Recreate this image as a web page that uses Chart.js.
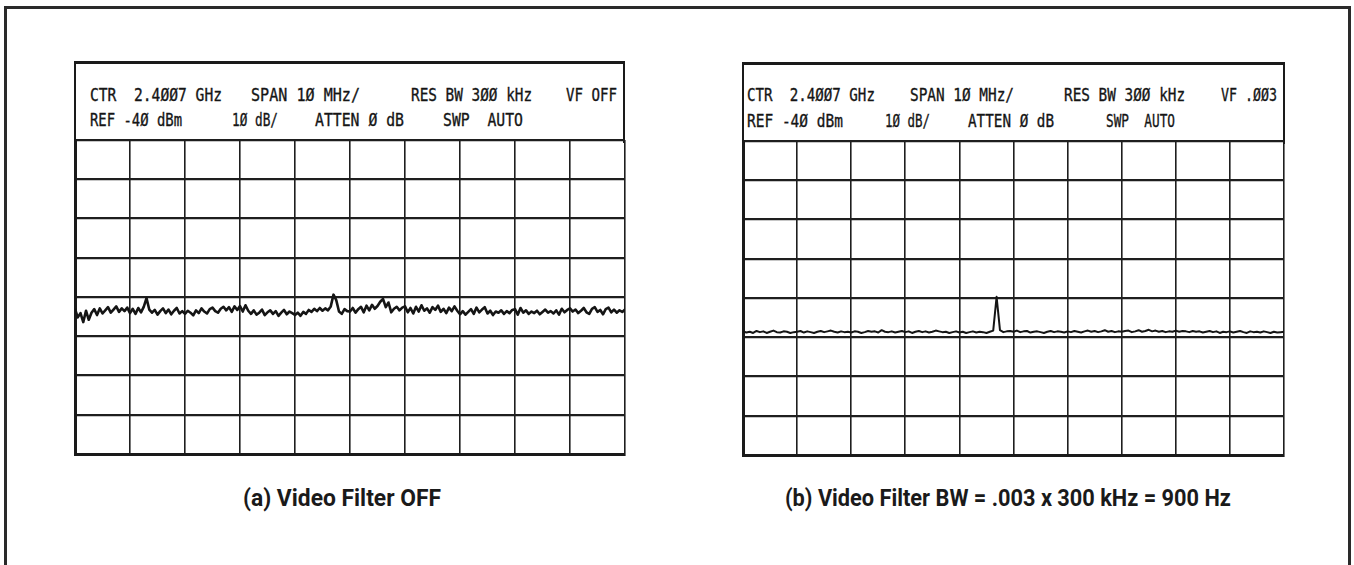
<!DOCTYPE html>
<html>
<head>
<meta charset="utf-8">
<script src="https://cdn.jsdelivr.net/npm/chart.js@4.4.1/dist/chart.umd.min.js"></script>
<style>
  html, body { margin: 0; padding: 0; background: #fff; }
  body { width: 1354px; height: 565px; overflow: hidden; position: relative; }
  #frame { position: absolute; left: 4px; top: 6px; width: 1347px; height: 700px;
           border: 3px solid #2a2a2a; box-sizing: border-box; }
  .head { position: absolute; height: 82px; box-sizing: border-box;
          border-top: 3px solid #1a1a1a; border-left: 2.5px solid #1a1a1a; border-right: 2.5px solid #1a1a1a; }
  .tok { position: absolute; font-family: "DejaVu Sans Mono", monospace; font-size: 18px; line-height: 18px;
         color: #151515; white-space: pre; transform-origin: 0 0; -webkit-text-stroke: 0.35px #151515; }
  .cap { position: absolute; font-family: Roboto, "Liberation Sans", sans-serif; font-weight: bold;
         font-size: 23px; line-height: 23px; color: #1a1a1a; white-space: pre; transform-origin: 0 0; }
  .plot { position: absolute; }
</style>
</head>
<body>
<div id="frame"></div>
<div class="head" style="left:74px; top:61px; width:551px;"></div>
<div class="head" style="left:742px; top:62px; width:543px;"></div>

<div class="plot" style="left:69px; top:134px; width:562px; height:326px;"><canvas id="chartA"></canvas></div>
<div class="plot" style="left:737px; top:135px; width:553px; height:326px;"><canvas id="chartB"></canvas></div>

<script>
// sweep settings
const refLevel = -40;      // dBm, top graticule line
const dbPerDiv = 10;
const vertDivs = 8;
const spanPerDiv = 10;     // MHz / div
const horizDivs = 10;

// trace (a): video filter off, 201 samples across the sweep (dBm)
const traceOff = [
  -83.0,-85.2,-84.1,-86.4,-83.5,-85.8,-84.0,-83.1,-84.6,-82.9,-84.2,-83.4,-82.6,-84.0,-83.2,-82.4,-83.8,-82.9,-83.6,-82.7,
  -84.1,-83.0,-84.3,-82.8,-83.9,-82.5,-80.3,-83.2,-84.0,-83.3,-84.5,-83.6,-82.9,-84.1,-83.2,-84.4,-83.5,-82.8,-84.2,-83.6,
  -84.3,-83.5,-84.0,-84.7,-83.4,-84.1,-82.9,-83.7,-84.2,-83.1,-82.7,-83.6,-84.0,-83.0,-82.5,-83.4,-82.6,-83.8,-82.4,-83.3,
  -82.3,-83.7,-82.1,-83.5,-84.3,-83.4,-84.5,-84.0,-83.2,-84.6,-83.9,-83.4,-84.3,-83.6,-84.8,-84.0,-83.3,-84.4,-83.7,-84.1,
  -84.6,-84.0,-84.8,-83.8,-84.3,-83.3,-83.8,-83.0,-83.6,-82.8,-83.5,-82.9,-83.4,-82.4,-79.4,-80.8,-83.7,-84.3,-83.1,-83.6,
  -83.7,-82.8,-84.0,-83.1,-82.5,-83.9,-82.2,-83.4,-82.0,-83.0,-82.3,-81.2,-80.5,-82.6,-81.4,-83.9,-83.0,-82.5,-83.4,-82.7,
  -82.4,-83.9,-82.8,-84.2,-82.5,-83.7,-82.1,-83.5,-82.9,-84.0,-82.6,-83.3,-82.2,-83.8,-83.0,-84.1,-82.7,-83.6,-82.4,-83.5,
  -84.4,-83.6,-84.5,-83.8,-83.1,-84.3,-82.7,-83.9,-83.2,-82.6,-84.2,-83.5,-84.6,-83.7,-84.0,-83.4,-84.3,-83.6,-84.1,-83.3,
  -83.1,-84.5,-82.8,-84.0,-83.4,-84.3,-83.7,-84.1,-83.5,-84.4,-83.8,-83.2,-84.0,-83.6,-84.2,-83.4,-84.5,-83.0,-83.9,-83.3,
  -82.9,-83.7,-83.2,-84.1,-83.5,-82.8,-83.9,-84.3,-83.0,-82.6,-83.8,-83.3,-84.4,-83.1,-82.7,-83.9,-83.2,-84.0,-83.4,-83.8,
  -83.2
];

// trace (b): video filter .003, 161 samples across the same sweep (dBm)
const traceVf = [
  -88.5,-88.8,-88.6,-88.9,-88.4,-88.7,-88.5,-88.9,-88.6,-88.3,-88.7,-88.8,-88.5,-88.6,-88.9,-88.7,
  -88.6,-88.4,-88.8,-88.5,-88.7,-88.9,-88.6,-88.4,-88.7,-88.5,-88.3,-88.6,-88.8,-88.5,-88.7,-88.6,
  -88.8,-88.5,-88.6,-88.9,-88.7,-88.4,-88.6,-88.5,-88.8,-88.2,-88.6,-88.7,-88.5,-88.8,-88.6,-88.4,
  -88.7,-88.5,-88.9,-88.6,-88.4,-88.7,-88.5,-88.8,-88.6,-88.3,-88.5,-88.7,-88.6,-88.9,-88.7,-88.5,
  -88.8,-88.6,-88.9,-88.7,-88.5,-88.8,-88.6,-88.7,-88.9,-88.6,-88.3,-79.7,-88.2,-88.7,-88.5,-88.4,
  -88.6,-88.3,-88.7,-88.5,-88.4,-88.8,-88.6,-88.5,-88.7,-88.9,-88.6,-88.4,-88.7,-88.5,-88.6,-88.8,
  -88.5,-88.7,-88.4,-88.6,-88.8,-88.5,-88.3,-88.6,-88.4,-88.7,-88.5,-88.2,-88.6,-88.4,-88.7,-88.5,
  -88.6,-88.4,-88.3,-88.7,-88.5,-88.2,-88.6,-88.4,-88.1,-88.5,-88.3,-88.6,-88.4,-88.7,-88.5,-88.6,
  -88.3,-88.6,-88.4,-88.5,-88.7,-88.4,-88.6,-88.5,-88.8,-88.6,-88.4,-88.7,-88.5,-88.9,-88.6,-88.7,
  -88.5,-88.8,-88.6,-88.4,-88.7,-88.9,-88.5,-88.7,-88.6,-88.8,-88.5,-88.7,-88.9,-88.6,-88.8,-88.7,
  -88.6
];

// screen annotation lines: text, left edge, right edge
const headA1 = [['CTR  2.4ØØ7 GHz', 90, 222], ['SPAN 1Ø MHz/', 251, 360], ['RES BW 3ØØ kHz', 411, 532], ['VF OFF', 566, 617]];
const headA2 = [['REF -4Ø dBm', 90, 182], ['1Ø dB/', 232, 278], ['ATTEN Ø dB', 315, 404], ['SWP  AUTO', 443, 523]];
const headB1 = [['CTR  2.4ØØ7 GHz', 747, 875], ['SPAN 1Ø MHz/', 910, 1014], ['RES BW 3ØØ kHz', 1064, 1185], ['VF .ØØ3', 1221, 1277]];
const headB2 = [['REF -4Ø dBm', 747, 843], ['1Ø dB/', 885, 930], ['ATTEN Ø dB', 968, 1054], ['SWP  AUTO', 1106, 1175]];

const captionA = '(a) Video Filter OFF';
const captionB = '(b) Video Filter BW = .003 x 300 kHz = 900 Hz';

// put a text piece at x0 and squeeze it to end at x1
function placeText(cls, text, x0, x1, top) {
    const s = document.createElement('div');
    s.className = cls;
    s.textContent = text;
    s.style.left = x0 + 'px';
    s.style.top = top + 'px';
    document.body.appendChild(s);
    const w = s.getBoundingClientRect().width;
    s.style.transform = 'scaleX(' + ((x1 - x0) / w).toFixed(3) + ')';
}

headA1.forEach(t => placeText('tok', t[0], t[1], t[2], 86));
headA2.forEach(t => placeText('tok', t[0], t[1], t[2], 111));
headB1.forEach(t => placeText('tok', t[0], t[1], t[2], 86));
headB2.forEach(t => placeText('tok', t[0], t[1], t[2], 112));

placeText('cap', captionA, 243, 441, 487);
placeText('cap', captionB, 785, 1231, 487);

// x positions of the sweep samples, offset from centre in MHz
function sweepPoints(levels) {
    const half = spanPerDiv * horizDivs / 2;
    return levels.map((v, i) => ({ x: -half + i * (2 * half) / (levels.length - 1), y: v }));
}

function makeChart(id, levels, width) {
    const ctx = document.getElementById(id).getContext('2d');
    const half = spanPerDiv * horizDivs / 2;
    return new Chart(ctx, {
        type: 'line',
        data: {
            datasets: [{
                data: sweepPoints(levels),
                borderColor: '#151515',
                borderWidth: width,
                borderJoinStyle: 'round',
                pointRadius: 0,
                tension: 0
            }]
        },
        options: {
            responsive: true,
            maintainAspectRatio: false,
            animation: false,
            layout: { padding: 6 },
            plugins: { legend: { display: false }, tooltip: { enabled: false } },
            scales: {
                x: {
                    type: 'linear', min: -half, max: half,
                    ticks: { display: false, stepSize: spanPerDiv },
                    grid: { color: '#1e1e1e', lineWidth: 1.6, drawTicks: false },
                    border: { display: true, color: '#1a1a1a', width: 3 }
                },
                y: {
                    min: refLevel - dbPerDiv * vertDivs, max: refLevel,
                    ticks: { display: false, stepSize: dbPerDiv },
                    grid: { color: '#1e1e1e', lineWidth: 2.2, drawTicks: false },
                    border: { display: true, color: '#1a1a1a', width: 3 }
                }
            }
        }
    });
}

makeChart('chartA', traceOff, 2.6);
makeChart('chartB', traceVf, 2);
</script>
</body>
</html>
